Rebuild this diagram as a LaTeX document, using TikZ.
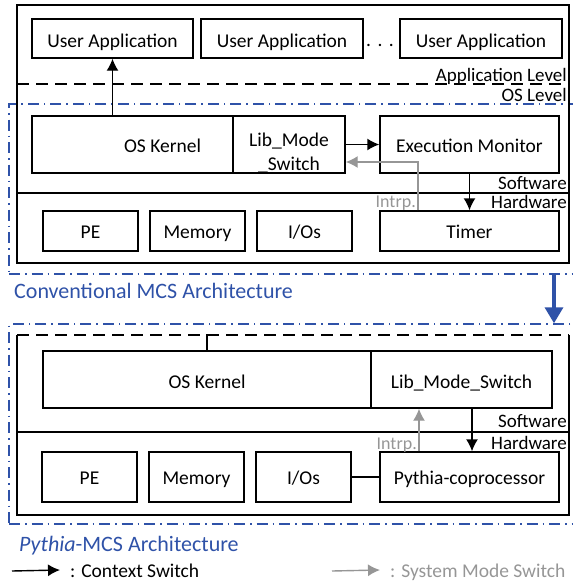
\documentclass[tikz,border=0pt]{standalone}
\usepackage{fontspec}
\setmainfont{Carlito}
\usepackage{tikz}
\usetikzlibrary{arrows.meta,calc,positioning}
\definecolor{archblue}{RGB}{47,82,168}
\definecolor{modegray}{RGB}{150,150,150}
\tikzset{
  boxtext/.style={inner sep=0pt, text height=15pt, text depth=0pt, font=\fontsize{19.5}{24}\selectfont},
  box/.style={boxtext, draw, line width=1.4pt},
  frame/.style={draw, line width=1.4pt},
  lvldash/.style={line width=1.4pt, dash pattern=on 12pt off 7pt},
  lvl/.style={anchor=east, inner sep=0pt, text height=14pt, text depth=0pt, font=\fontsize{19}{22}\selectfont},
  archline/.style={archblue, line width=1.4pt, dash pattern=on 11pt off 5pt on 1.5pt off 5pt},
  cswitch/.style={line width=1.4pt, -{Latex[length=12pt,width=12pt]}},
  mswitch/.style={modegray, line width=1.4pt, -{Latex[length=12pt,width=12pt]}},
  intrp/.style={lvl, modegray, font=\fontsize{18}{22}\selectfont},
  archtitle/.style={archblue, anchor=west, inner sep=0pt, text height=16pt, text depth=0pt, font=\fontsize{22}{26}\selectfont}
}

\begin{document}
\begin{tikzpicture}[x=1pt,y=-1pt]
\useasboundingbox (0,0) rectangle (573,587);

% conventional MCS
\node[archline, draw, minimum width=571pt, minimum height=170pt, inner sep=0pt] (conv) at (294.5,189) {};
\draw[frame] (17,5) rectangle (569,263);
\node[box, minimum width=161pt, minimum height=39pt, text height=17pt] (ua1) at (112.5,38.5) {User Application};
\node[box, minimum width=162pt, minimum height=39pt, text height=17pt] (ua2) at (282,38.5) {User Application};
\node[box, minimum width=162pt, minimum height=39pt, text height=17pt] (ua3) at (481,38.5) {User Application};
\node[boxtext] (dots) at (380,38.5) {.\,\,.\,\,.};
\draw[lvldash] (17,84) -- (569,84);
\node[lvl] (applvl) at (567,74) {Application Level};
\node[lvl] (oslvl) at (567,94) {OS Level};

\node[box, minimum width=201pt, minimum height=57pt] (oskern1) at (132.5,144.5) {};
\node[boxtext] at ([xshift=30pt]oskern1.center) {OS Kernel};
\node[box, minimum width=112pt, minimum height=57pt] (libms1) at (289,144.5) {};
\node[inner sep=0pt, align=center, font=\fontsize{19.5}{24}\selectfont] at ([yshift=-9pt]libms1.center) {Lib\_Mode\\\_Switch};
\node[box, minimum width=179pt, minimum height=57pt] (execmon) at (469.5,144.5) {Execution Monitor};

\draw[frame] (17,193) -- (569,193);
\node[lvl] (sw1) at (567,182.5) {Software};
\node[lvl] (hw1) at (567,201) {Hardware};

\node[box, minimum width=95pt, minimum height=40pt] (pe1) at (90.5,231) {PE};
\node[box, minimum width=95pt, minimum height=40pt] (mem1) at (197.5,231) {Memory};
\node[box, minimum width=95pt, minimum height=40pt] (io1) at (304.5,231) {I/Os};
\node[box, minimum width=179pt, minimum height=40pt] (timer) at (469.5,231) {Timer};

\draw[cswitch] (ua1.south |- oskern1.north) -- (ua1.south);
\draw[cswitch] (libms1.east) -- (execmon.west);
\draw[cswitch] (execmon.south) -- (timer.north);
\coordinate (intr1) at (418,0);
\draw[mswitch] (intr1 |- timer.north) |- ($(libms1.east)+(0,17.5)$);
\node[intrp] at (416,200) {Intrp.};

\node[archtitle] (convtitle) at (14,290) {Conventional MCS Architecture};

% Pythia MCS
\node[archline, draw, minimum width=571pt, minimum height=200pt, inner sep=0pt] (pyarch) at (294.5,424) {};
\coordinate (archarr) at (554,0);
\draw[archblue, line width=3.5pt, -{Triangle[length=16pt,width=18pt]}] (archarr |- conv.south) -- (archarr |- pyarch.north);

\draw[lvldash] (17,335) -- (569,335);
\draw[frame] (17,335) -- (17,515) -- (569,515) -- (569,335);
\node[box, minimum width=328pt, minimum height=57pt, text height=17pt] (oskern2) at (207,379.5) {OS Kernel};
\node[box, minimum width=181pt, minimum height=57pt, text height=17pt] (libms2) at (461.5,379.5) {Lib\_Mode\_Switch};
\draw[frame] (oskern2.north) -- ++(0,-16);

\draw[frame] (17,432) -- (569,432);
\node[lvl] (sw2) at (567,420) {Software};
\node[lvl] (hw2) at (567,442) {Hardware};

\node[box, minimum width=95pt, minimum height=50pt] (pe2) at (89.5,477) {PE};
\node[box, minimum width=95pt, minimum height=50pt] (mem2) at (196.5,477) {Memory};
\node[box, minimum width=95pt, minimum height=50pt] (io2) at (303.5,477) {I/Os};
\node[box, minimum width=179pt, minimum height=50pt] (pythia) at (469.5,477) {Pythia-coprocessor};
\draw[frame] (io2.east) -- (pythia.west);

\coordinate (cs2) at (472,0);
\coordinate (intr2) at (419,0);
\draw[cswitch] (cs2 |- libms2.south) -- (cs2 |- pythia.north);
\draw[mswitch] (intr2 |- pythia.north) -- (intr2 |- libms2.south);
\node[intrp] at (417,442) {Intrp.};

\node[archtitle] (pytitle) at (19,543) {\textit{Pythia}-MCS Architecture};

% legend
\coordinate (csleg) at (12,571);
\node[boxtext, anchor=west, text height=14pt] (cstext) at (70,570) {: Context Switch};
\draw[cswitch] (csleg) -- (cstext.west -| 60,0);
\coordinate (msleg) at (332,571);
\node[boxtext, anchor=west, text height=14pt, modegray] (mstext) at (390,570) {: System Mode Switch};
\draw[mswitch] (msleg) -- (mstext.west -| 380,0);
\end{tikzpicture}
\end{document}
